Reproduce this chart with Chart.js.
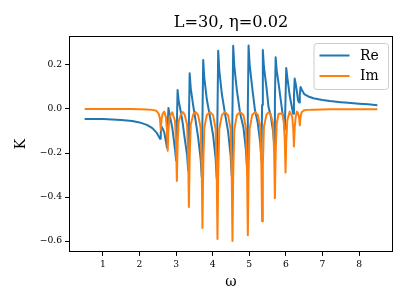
<!DOCTYPE html>
<html lang="en">
<head>
    <meta charset="UTF-8">
    <title>L=30, η=0.02</title>
    <script src="https://cdn.jsdelivr.net/npm/chart.js"></script>
    <style>
        body { margin: 0; background: #fff; }
        canvas { display: block; }
    </style>
</head>
<body>
<canvas id="kChart" width="407" height="305"></canvas>

<script>
    // frequency samples (ω)
    const omega = [
        0.5, 1.0, 1.5, 1.8, 2.0, 2.2, 2.35, 2.46,
        2.53, 2.56, 2.58, 2.60, 2.63, 2.675,
        2.72, 2.75, 2.77, 2.79, 2.82, 2.895,
        2.97, 3.00, 3.02, 3.04, 3.07, 3.14, 3.185, 3.23,
        3.30, 3.33, 3.35, 3.37, 3.40, 3.47, 3.535, 3.60,
        3.67, 3.70, 3.72, 3.74, 3.77, 3.84, 3.925, 4.01,
        4.08, 4.11, 4.13, 4.15, 4.18, 4.25, 4.335, 4.42,
        4.49, 4.52, 4.54, 4.56, 4.59, 4.66, 4.75, 4.84,
        4.91, 4.94, 4.96, 4.98, 5.01, 5.08, 5.155, 5.23,
        5.30, 5.33, 5.35, 5.37, 5.40, 5.47, 5.525, 5.58,
        5.65, 5.68, 5.70, 5.72, 5.75, 5.80, 5.90,
        5.94, 5.97, 5.99, 6.01, 6.04, 6.105,
        6.17, 6.20, 6.22, 6.24, 6.27, 6.30,
        6.33, 6.36, 6.38, 6.40, 6.43,
        6.5, 6.6, 6.75, 7.0, 7.2, 7.5, 7.7, 8.0, 8.25, 8.5
    ];

    // Re K
    const reK = [
        -0.045, -0.046, -0.050, -0.055, -0.061, -0.072, -0.087, -0.106,
        -0.126, -0.135, -0.107, -0.079, -0.088, -0.105,
        -0.147, -0.175, -0.085, 0.005, -0.023, -0.085,
        -0.184, -0.234, -0.074, 0.086, 0.036, -0.023, -0.070, -0.128,
        -0.210, -0.278, -0.058, 0.162, 0.094, 0.012, -0.055, -0.127,
        -0.225, -0.307, -0.042, 0.223, 0.141, 0.043, -0.035, -0.118,
        -0.225, -0.315, -0.025, 0.265, 0.175, 0.068, -0.020, -0.102,
        -0.212, -0.303, -0.008, 0.287, 0.196, 0.086, -0.020, -0.084,
        -0.189, -0.276, 0.006, 0.288, 0.201, 0.096, -0.005, -0.062,
        -0.155, -0.232, 0.018, 0.268, 0.191, 0.098, 0.010, -0.026,
        -0.100, -0.161, 0.037, 0.235, 0.174, 0.116, -0.010,
        -0.051, -0.094, 0.046, 0.186, 0.143, 0.060,
        0.003, -0.022, 0.058, 0.138, 0.113, 0.080,
        0.041, 0.030, 0.065, 0.100, 0.089,
        0.068, 0.058, 0.049, 0.041, 0.036, 0.031, 0.028, 0.024, 0.021, 0.017
    ];

    // Im K
    const imK = [
        0, 0, 0, 0, -0.001, -0.002, -0.004, -0.008,
        -0.023, -0.048, -0.095, -0.048, -0.023, -0.012,
        -0.036, -0.095, -0.190, -0.095, -0.036, -0.015,
        -0.055, -0.164, -0.327, -0.164, -0.055, -0.021, -0.014, -0.024,
        -0.071, -0.223, -0.445, -0.223, -0.071, -0.024, -0.014, -0.027,
        -0.085, -0.270, -0.540, -0.270, -0.085, -0.027, -0.014, -0.028,
        -0.091, -0.295, -0.590, -0.295, -0.091, -0.028, -0.014, -0.028,
        -0.093, -0.300, -0.600, -0.300, -0.093, -0.028, -0.014, -0.027,
        -0.089, -0.287, -0.573, -0.287, -0.089, -0.027, -0.014, -0.026,
        -0.080, -0.255, -0.510, -0.255, -0.080, -0.026, -0.015, -0.022,
        -0.066, -0.203, -0.405, -0.203, -0.066, -0.022, -0.020,
        -0.050, -0.144, -0.288, -0.144, -0.050, -0.012,
        -0.033, -0.085, -0.170, -0.085, -0.033, -0.012,
        -0.020, -0.037, -0.074, -0.037, -0.015,
        -0.006, -0.004, -0.003, -0.002, -0.001, -0.001, -0.001, -0.001, -0.001, -0.001
    ];

    const xTicks = [1, 2, 3, 4, 5, 6, 7, 8];
    const yTicks = [-0.6, -0.4, -0.2, 0.0, 0.2];

    const serif = "'DejaVu Serif', serif";

    // axes frame + matplotlib style legend box
    const framePlugin = {
        id: 'frame',
        afterDraw(chart) {
            const ctx = chart.ctx;
            const a = chart.chartArea;
            ctx.save();
            ctx.strokeStyle = '#000';
            ctx.lineWidth = 1;
            ctx.strokeRect(a.left - 0.5, a.top - 0.5, a.right - a.left + 1, a.bottom - a.top + 1);

            // legend
            const bx = 314, by = 43.5, bw = 74.5, bh = 46, r = 3;
            ctx.beginPath();
            ctx.moveTo(bx + r, by);
            ctx.arcTo(bx + bw, by, bx + bw, by + bh, r);
            ctx.arcTo(bx + bw, by + bh, bx, by + bh, r);
            ctx.arcTo(bx, by + bh, bx, by, r);
            ctx.arcTo(bx, by, bx + bw, by, r);
            ctx.closePath();
            ctx.fillStyle = 'rgba(255,255,255,0.8)';
            ctx.fill();
            ctx.strokeStyle = '#cccccc';
            ctx.lineWidth = 1;
            ctx.stroke();

            const rows = [55.5, 76];
            const legendSets = [...chart.data.datasets].sort((p, q) => q.order - p.order);
            legendSets.forEach((ds, i) => {
                ctx.strokeStyle = ds.borderColor;
                ctx.lineWidth = 2;
                ctx.beginPath();
                ctx.moveTo(319.5, rows[i]);
                ctx.lineTo(349.5, rows[i]);
                ctx.stroke();
                ctx.fillStyle = '#000';
                ctx.font = '13.9px ' + serif;
                ctx.textBaseline = 'middle';
                ctx.textAlign = 'left';
                ctx.fillText(ds.label, 360, rows[i] + 0.5);
            });
            ctx.restore();
        }
    };

    const ctx = document.getElementById('kChart').getContext('2d');

    new Chart(ctx, {
        type: 'line',
        data: {
            datasets: [
                {
                    label: 'Re',
                    data: omega.map((w, i) => ({ x: w, y: reK[i] })),
                    borderColor: '#1f77b4',
                    borderWidth: 2,
                    borderJoinStyle: 'round',
                    pointRadius: 0,
                    tension: 0,
                    order: 1
                },
                {
                    label: 'Im',
                    data: omega.map((w, i) => ({ x: w, y: imK[i] })),
                    borderColor: '#ff7f0e',
                    borderWidth: 2,
                    borderJoinStyle: 'round',
                    pointRadius: 0,
                    tension: 0,
                    order: 0
                }
            ]
        },
        options: {
            responsive: false,
            animation: false,
            devicePixelRatio: 1,
            layout: { padding: { left: 0, right: 15, top: 0, bottom: 0 } },
            plugins: {
                legend: { display: false },
                tooltip: { enabled: false },
                title: {
                    display: true,
                    text: 'L=30, η=0.02',
                    fullSize: false,
                    color: '#000',
                    font: { family: serif, size: 16.2, weight: 'normal' },
                    padding: { top: 13, bottom: 4.56 }
                }
            },
            scales: {
                x: {
                    type: 'linear',
                    min: 0.1,
                    max: 8.9,
                    afterFit: s => { s.height = 54; },
                    afterBuildTicks: s => { s.ticks = xTicks.map(v => ({ value: v })); },
                    border: { display: false },
                    grid: { drawOnChartArea: false, drawTicks: true, tickLength: 4.9, color: '#000', lineWidth: 1 },
                    ticks: {
                        color: '#000',
                        padding: 3,
                        maxRotation: 0,
                        font: { family: serif, size: 9.2 },
                        callback: v => String(v)
                    },
                    title: {
                        display: true,
                        text: 'ω',
                        color: '#000',
                        font: { family: serif, size: 13.9 },
                        padding: { top: 0, bottom: 14 }
                    }
                },
                y: {
                    min: -0.645,
                    max: 0.327,
                    afterFit: s => { s.width = 70; },
                    afterBuildTicks: s => { s.ticks = yTicks.map(v => ({ value: v })); },
                    border: { display: false },
                    grid: { drawOnChartArea: false, drawTicks: true, tickLength: 4.9, color: '#000', lineWidth: 1 },
                    ticks: {
                        color: '#000',
                        padding: 3,
                        font: { family: serif, size: 9.2 },
                        callback: v => (v < -1e-9 ? '\u2212' : '') + Math.abs(v).toFixed(1)
                    },
                    title: {
                        display: true,
                        text: 'K',
                        color: '#000',
                        font: { family: serif, size: 13.9 },
                        padding: { top: 13, bottom: 0 }
                    }
                }
            }
        },
        plugins: [framePlugin]
    });
</script>
</body>
</html>
